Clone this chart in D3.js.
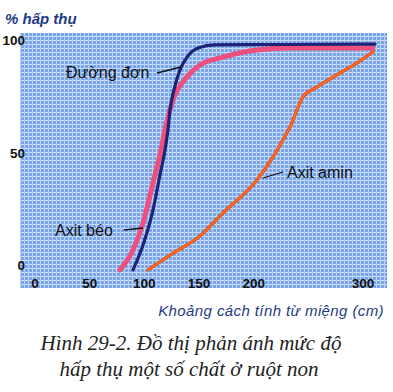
<!DOCTYPE html>
<html>
<head>
<meta charset="utf-8">
<script src="https://cdn.jsdelivr.net/npm/d3@7"></script>
<style>
  body { margin: 0; background: #fff; }
  svg { display: block; }
</style>
</head>
<body>
<svg id="chart" width="393" height="392"></svg>
<script>
// values (x = cm from mouth, y = % absorbed)
var xTicks = [0, 50, 100, 150, 200, 300];
var yTicks = [0, 50, 100];

var sugarX = [89.6, 98.8, 107.9, 114.3, 118.9, 121.6, 123.5, 127.1, 132.6, 139.9, 149.1, 164.6, 230, 311];
var sugarY = [-2.2, 8.9, 24.4, 40, 51.1, 60, 68.9, 77.8, 86.7, 92.9, 96.4, 97.8, 98, 98.2];

var fatX = [77.7, 89.6, 98.8, 107.9, 115.2, 119.8, 126.2, 139, 150.9, 172, 203, 233, 309];
var fatY = [-2.2, 6.7, 18.7, 36.4, 51.1, 62.2, 73.3, 83.6, 88.9, 92.4, 95.6, 96.4, 96.4];

var aminoX = [103.4, 123.5, 150.9, 172, 203, 217.7, 226.8, 233.2, 245.1, 257.9, 279, 294.5, 309.2];
var aminoY = [-2.2, 4.4, 12.9, 23.1, 37.8, 48, 55.6, 61.3, 74.7, 79.1, 85.3, 89.8, 94.7];

var svg = d3.select('#chart');

// scales
var x = d3.scaleLinear().domain([0, 300]).range([35, 363]);
var y = d3.scaleLinear().domain([0, 100]).range([265, 40]);

// textured blue background
var defs = svg.append('defs');
var pat = defs.append('pattern')
    .attr('id', 'grid')
    .attr('width', 4).attr('height', 4)
    .attr('patternUnits', 'userSpaceOnUse');
pat.append('rect').attr('width', 4).attr('height', 4).attr('fill', '#7fa8ea');
pat.append('rect').attr('x', 0).attr('y', 0).attr('width', 4).attr('height', 1).attr('fill', '#c9dcf8');
pat.append('rect').attr('x', 0).attr('y', 0).attr('width', 1).attr('height', 4).attr('fill', '#b8d1f6');
pat.append('rect').attr('x', 2).attr('y', 2).attr('width', 1).attr('height', 1).attr('fill', '#6a93dc');

svg.append('rect')
    .attr('x', 20).attr('y', 33)
    .attr('width', 367).attr('height', 255)
    .attr('fill', 'url(#grid)');

// line generator
var line = d3.line()
    .x(function(d) { return x(d[0]); })
    .y(function(d) { return y(d[1]); })
    .curve(d3.curveMonotoneX);

function pairs(xs, ys) {
    return xs.map(function(v, i) { return [v, ys[i]]; });
}

// Axit béo (pink, thick)
svg.append('path')
    .attr('d', line(pairs(fatX, fatY)))
    .attr('fill', 'none')
    .attr('stroke', '#ef4f7c')
    .attr('stroke-width', 5)
    .attr('stroke-linecap', 'round');

// Đường đơn (navy)
svg.append('path')
    .attr('d', line(pairs(sugarX, sugarY)))
    .attr('fill', 'none')
    .attr('stroke', '#1d2475')
    .attr('stroke-width', 3.2)
    .attr('stroke-linecap', 'round');

// Axit amin (orange)
svg.append('path')
    .attr('d', line(pairs(aminoX, aminoY)))
    .attr('fill', 'none')
    .attr('stroke', '#f0541a')
    .attr('stroke-width', 3.4)
    .attr('stroke-linecap', 'round');
svg.append('path')
    .attr('d', line(pairs(aminoX, aminoY)))
    .attr('fill', 'none')
    .attr('stroke', '#f7a02a')
    .attr('stroke-width', 1)
    .attr('opacity', 0.6);

// tick labels
svg.selectAll('.xtick')
    .data(xTicks)
    .enter()
    .append('text')
    .attr('x', function(d) { return x(d); })
    .attr('y', 288)
    .attr('text-anchor', 'middle')
    .style('font', 'bold 13.5px "Liberation Sans", Arial, sans-serif')
    .attr('fill', '#111')
    .text(function(d) { return d; });

svg.selectAll('.ytick')
    .data(yTicks)
    .enter()
    .append('text')
    .attr('x', 25)
    .attr('y', function(d) { return y(d) + 5; })
    .attr('text-anchor', 'end')
    .style('font', 'bold 13.5px "Liberation Sans", Arial, sans-serif')
    .attr('fill', '#111')
    .text(function(d) { return d; });

// series labels with leader lines
var labelFont = '16px "Liberation Sans", Arial, sans-serif';
svg.append('text').attr('x', 66).attr('y', 78).style('font', labelFont).attr('fill', '#111').text('Đường đơn');
svg.append('line').attr('x1', 157).attr('y1', 73).attr('x2', 181).attr('y2', 67).attr('stroke', '#111').attr('stroke-width', 1.3);

svg.append('text').attr('x', 55).attr('y', 236).style('font', labelFont).attr('fill', '#111').text('Axit béo');
svg.append('line').attr('x1', 124).attr('y1', 230).attr('x2', 143).attr('y2', 228).attr('stroke', '#111').attr('stroke-width', 1.3);

svg.append('text').attr('x', 287).attr('y', 178).style('font', labelFont).attr('fill', '#111').text('Axit amin');
svg.append('line').attr('x1', 283).attr('y1', 172).attr('x2', 263).attr('y2', 178).attr('stroke', '#111').attr('stroke-width', 1.3);

// axis titles
svg.append('text')
    .attr('x', 5).attr('y', 24)
    .style('font', 'italic bold 15px "Liberation Sans", Arial, sans-serif')
    .attr('fill', '#1e3a86')
    .text('% hấp thụ');

svg.append('text')
    .attr('x', 384).attr('y', 316)
    .attr('text-anchor', 'end')
    .style('font', 'italic 15px "Liberation Sans", Arial, sans-serif')
    .style('letter-spacing', '0.4px')
    .attr('fill', '#1e3a86')
    .text('Khoảng cách tính từ miệng (cm)');

// caption
var capFont = 'italic 21px "Liberation Serif", "Times New Roman", serif';
svg.append('text').attr('x', 191).attr('y', 350).attr('text-anchor', 'middle')
    .style('font', capFont).attr('fill', '#222').text('Hình 29-2. Đồ thị phản ánh mức độ');
svg.append('text').attr('x', 189).attr('y', 376).attr('text-anchor', 'middle')
    .style('font', capFont).attr('fill', '#222').text('hấp thụ một số chất ở ruột non');
</script>
</body>
</html>
